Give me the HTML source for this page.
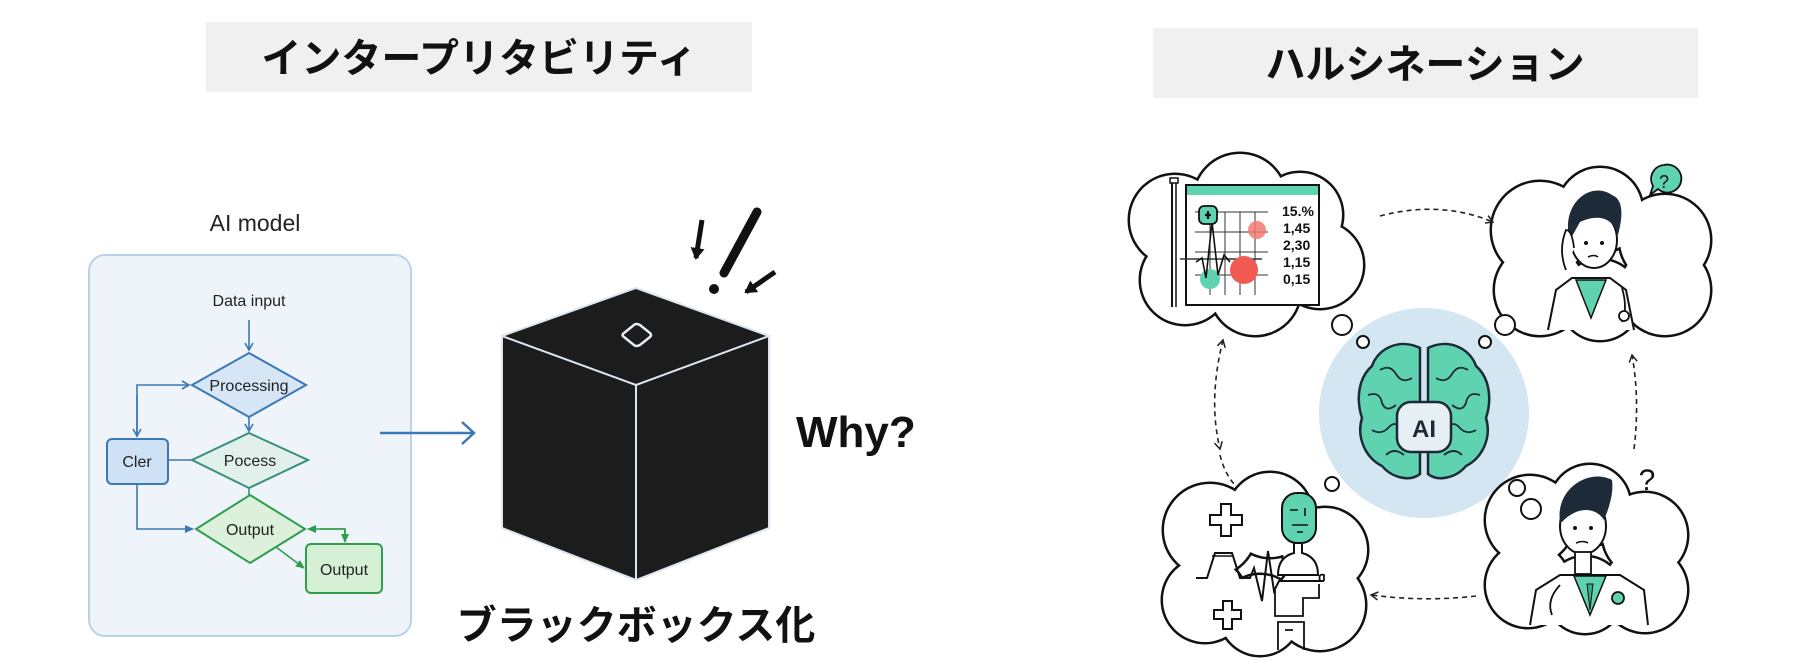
<!DOCTYPE html>
<html><head><meta charset="utf-8"><style>
html,body{margin:0;padding:0;background:#fff;}
svg{display:block;}
.jp{font-family:"Liberation Sans","Noto Sans CJK JP",sans-serif;font-weight:700;}
.lt{font-family:"Liberation Sans","Noto Sans CJK JP",sans-serif;}
</style></head><body>
<svg width="1820" height="671" viewBox="0 0 1820 671" xmlns="http://www.w3.org/2000/svg">
<defs>
<marker id="ab" markerWidth="10" markerHeight="10" refX="8" refY="5" orient="auto" markerUnits="userSpaceOnUse"><path d="M1,1 L8,5 L1,9" fill="none" stroke="#3b78b5" stroke-width="1.6"/></marker>
<marker id="ag" markerWidth="10" markerHeight="10" refX="8" refY="5" orient="auto" markerUnits="userSpaceOnUse"><path d="M0,1 L9,5 L0,9 z" fill="#2e9e4a"/></marker>
<marker id="abf" markerWidth="10" markerHeight="10" refX="8" refY="5" orient="auto" markerUnits="userSpaceOnUse"><path d="M0,1 L9,5 L0,9 z" fill="#3b78b5"/></marker>
<marker id="ak" markerWidth="10" markerHeight="10" refX="8" refY="5" orient="auto-start-reverse" markerUnits="userSpaceOnUse"><path d="M1,1 L8,5 L1,9" fill="none" stroke="#222" stroke-width="1.5"/></marker>
<marker id="akb" markerWidth="14" markerHeight="14" refX="10" refY="7" orient="auto" markerUnits="userSpaceOnUse"><path d="M0,0 L12,7 L0,14 z" fill="#111"/></marker>
</defs>

<rect x="206" y="22" width="546" height="70" fill="#f0f0f0"/>
<text x="479" y="72" text-anchor="middle" class="jp" font-size="40" fill="#111">インタープリタビリティ</text>

<text x="255" y="231" text-anchor="middle" class="lt" font-size="23" fill="#222">AI model</text>
<rect x="89" y="255" width="322" height="381" rx="16" fill="#eef4fa" stroke="#b9d3e8" stroke-width="2"/>
<text x="249" y="306" text-anchor="middle" class="lt" font-size="16" fill="#222">Data input</text>
<line x1="249" y1="320" x2="249" y2="350" stroke="#3b78b5" stroke-width="1.6" marker-end="url(#ab)"/>
<polygon points="249,353 306,385 249,417 192,385" fill="#d6e6f6" stroke="#3b78b5" stroke-width="2"/>
<text x="249" y="391" text-anchor="middle" class="lt" font-size="16" fill="#222">Processing</text>
<line x1="249" y1="417" x2="249" y2="431" stroke="#3b78b5" stroke-width="1.6" marker-end="url(#ab)"/>
<polygon points="249,433 308,460 249,488 192,460" fill="#e2f0ec" stroke="#3a8f7a" stroke-width="2"/>
<text x="250" y="466" text-anchor="middle" class="lt" font-size="16" fill="#222">Pocess</text>
<line x1="249" y1="488" x2="249" y2="495" stroke="#3a8f7a" stroke-width="1.6"/>
<polygon points="250,495 305,529 250,563 196,529" fill="#dcf0dc" stroke="#2e9e4a" stroke-width="2"/>
<text x="250" y="535" text-anchor="middle" class="lt" font-size="16" fill="#222">Output</text>
<rect x="107" y="439" width="61" height="45" rx="5" fill="#cfe1f4" stroke="#3b78b5" stroke-width="2"/>
<text x="137" y="467" text-anchor="middle" class="lt" font-size="16" fill="#222">Cler</text>
<rect x="306" y="544" width="76" height="49" rx="5" fill="#d6f0d6" stroke="#2e9e4a" stroke-width="2"/>
<text x="344" y="575" text-anchor="middle" class="lt" font-size="16" fill="#222">Output</text>
<polyline points="137,437 137,385 189,385" fill="none" stroke="#3b78b5" stroke-width="1.6" marker-end="url(#ab)"/>
<line x1="137" y1="395" x2="137" y2="436" stroke="#3b78b5" stroke-width="1.6" marker-end="url(#ab)"/>
<line x1="168" y1="460" x2="192" y2="460" stroke="#3b78b5" stroke-width="1.6"/>
<polyline points="137,484 137,529 193,529" fill="none" stroke="#3b78b5" stroke-width="1.6" marker-end="url(#abf)"/>
<polyline points="345,541 345,529 308,529" fill="none" stroke="#2e9e4a" stroke-width="1.6" marker-end="url(#ag)"/>
<polyline points="320,529 345,529 345,542" fill="none" stroke="#2e9e4a" stroke-width="1.6" marker-end="url(#ag)"/>
<line x1="276" y1="547" x2="304" y2="568" stroke="#2e9e4a" stroke-width="1.6" marker-end="url(#ag)"/>
<line x1="380" y1="433" x2="473" y2="433" stroke="#3b78b5" stroke-width="2.5"/>
<path d="M462,422 L474,433 L462,444" fill="none" stroke="#3b78b5" stroke-width="2.5"/>

<polygon points="636,288 769,336 769,528 636,580 502,528 502,336" fill="#1c1c1c"/>
<polyline points="502,336 636,288 769,336 636,385 502,336 502,528 636,580 769,528 769,336" fill="none" stroke="#dde6f0" stroke-width="2"/>
<line x1="636" y1="385" x2="636" y2="580" stroke="#dde6f0" stroke-width="2"/>
<path d="M624,333 L634,325 Q636,323 640,325 L650,333 Q652,335 650,337 L640,345 Q636,347 634,345 L624,337 Q621,335 624,333 Z" fill="none" stroke="#e8eef4" stroke-width="2.5"/>
<line x1="757" y1="212" x2="724" y2="273" stroke="#111" stroke-width="9" stroke-linecap="round"/>
<circle cx="714" cy="289" r="5" fill="#111"/>
<line x1="702" y1="220" x2="696" y2="258" stroke="#111" stroke-width="5" marker-end="url(#akb)"/>
<line x1="775" y1="272" x2="746" y2="292" stroke="#111" stroke-width="5" marker-end="url(#akb)"/>
<text x="796" y="447" class="lt" font-weight="700" font-size="44" fill="#111">Why?</text>
<text x="636" y="639" text-anchor="middle" class="jp" font-size="40" fill="#111">ブラックボックス化</text>

<rect x="1153" y="28" width="545" height="70" fill="#f0f0f0"/>
<text x="1425" y="78" text-anchor="middle" class="jp" font-size="40" fill="#111">ハルシネーション</text>

<circle cx="1424" cy="413" r="105" fill="#d3e6f1"/>
<g stroke="#1d2b38" stroke-width="2.5" fill="#5fd3b0">
<path d="M1420,348 C1400,338 1378,348 1372,366 C1358,378 1356,400 1362,418 C1356,438 1366,458 1382,466 C1392,478 1410,482 1420,474 Z"/>
<path d="M1428,348 C1448,338 1470,348 1476,366 C1490,378 1492,400 1486,418 C1492,438 1482,458 1466,466 C1456,478 1438,482 1428,474 Z"/>
</g>
<g stroke="#1d2b38" stroke-width="1.8" fill="none">
<path d="M1380,370 q10,-6 16,4 q6,10 16,4"/><path d="M1368,395 q12,-4 14,8 q4,10 14,2"/><path d="M1372,430 q10,6 18,-4 q8,-6 10,6"/><path d="M1386,455 q8,-8 18,0"/>
<path d="M1468,370 q-10,-6 -16,4 q-6,10 -16,4"/><path d="M1480,395 q-12,-4 -14,8 q-4,10 -14,2"/><path d="M1476,430 q-10,6 -18,-4 q-8,-6 -10,6"/><path d="M1462,455 q-8,-8 -18,0"/>
</g>
<rect x="1397" y="402" width="54" height="50" rx="14" fill="#e6f0f4" stroke="#1d2b38" stroke-width="2.5"/>
<text x="1424" y="437" text-anchor="middle" class="lt" font-weight="700" font-size="24" fill="#1d2b38">AI</text>

<g stroke="#111" stroke-width="5" fill="#111">
<circle cx="1175" cy="220" r="45"/><circle cx="1240" cy="200" r="46"/><circle cx="1300" cy="215" r="42"/><circle cx="1320" cy="265" r="43"/><circle cx="1255" cy="290" r="45"/><circle cx="1185" cy="280" r="44"/>
<circle cx="1540" cy="230" r="48"/><circle cx="1600" cy="210" r="42"/><circle cx="1665" cy="240" r="45"/><circle cx="1665" cy="290" r="45"/><circle cx="1600" cy="300" r="40"/><circle cx="1540" cy="290" r="45"/>
<circle cx="1210" cy="530" r="46"/><circle cx="1270" cy="515" r="42"/><circle cx="1325" cy="550" r="42"/><circle cx="1320" cy="605" r="45"/><circle cx="1260" cy="615" r="40"/><circle cx="1205" cy="600" r="42"/>
<circle cx="1530" cy="520" r="44"/><circle cx="1590" cy="505" r="40"/><circle cx="1645" cy="535" r="42"/><circle cx="1645" cy="590" r="42"/><circle cx="1585" cy="595" r="38"/><circle cx="1528" cy="585" r="42"/>
</g>
<g fill="#fff">
<circle cx="1175" cy="220" r="45"/><circle cx="1240" cy="200" r="46"/><circle cx="1300" cy="215" r="42"/><circle cx="1320" cy="265" r="43"/><circle cx="1255" cy="290" r="45"/><circle cx="1185" cy="280" r="44"/>
<circle cx="1540" cy="230" r="48"/><circle cx="1600" cy="210" r="42"/><circle cx="1665" cy="240" r="45"/><circle cx="1665" cy="290" r="45"/><circle cx="1600" cy="300" r="40"/><circle cx="1540" cy="290" r="45"/>
<circle cx="1210" cy="530" r="46"/><circle cx="1270" cy="515" r="42"/><circle cx="1325" cy="550" r="42"/><circle cx="1320" cy="605" r="45"/><circle cx="1260" cy="615" r="40"/><circle cx="1205" cy="600" r="42"/>
<circle cx="1530" cy="520" r="44"/><circle cx="1590" cy="505" r="40"/><circle cx="1645" cy="535" r="42"/><circle cx="1645" cy="590" r="42"/><circle cx="1585" cy="595" r="38"/><circle cx="1528" cy="585" r="42"/>
</g>
<g fill="#fff" stroke="#111" stroke-width="2">
<circle cx="1342" cy="325" r="10"/><circle cx="1363" cy="342" r="6"/><circle cx="1505" cy="325" r="10"/><circle cx="1485" cy="342" r="6"/>
<circle cx="1332" cy="484" r="7"/><circle cx="1517" cy="488" r="8"/><circle cx="1531" cy="509" r="10"/>
</g>

<g stroke="#222" stroke-width="1.6" fill="none" stroke-dasharray="5,4">
<path d="M1380,216 Q1440,200 1493,222" marker-end="url(#ak)"/>
<path d="M1223,340 Q1208,400 1220,449" marker-end="url(#ak)" marker-start="url(#ak)"/>
<path d="M1220,455 Q1224,472 1234,484"/>
<path d="M1634,449 Q1640,400 1632,355" marker-end="url(#ak)"/>
<path d="M1476,596 Q1425,602 1371,595" marker-end="url(#ak)"/>
</g>

<rect x="1170" y="178" width="8" height="5" fill="#fff" stroke="#111" stroke-width="1.5"/>
<line x1="1172" y1="183" x2="1172" y2="307" stroke="#111" stroke-width="2"/>
<line x1="1176" y1="183" x2="1176" y2="307" stroke="#111" stroke-width="1.5"/>
<rect x="1186" y="185" width="133" height="120" fill="#fff" stroke="#111" stroke-width="2"/>
<rect x="1187" y="186" width="131" height="9" fill="#5fd3b0"/>
<g stroke="#333" stroke-width="1">
<line x1="1195" y1="212" x2="1268" y2="212"/><line x1="1195" y1="232" x2="1268" y2="232"/><line x1="1195" y1="252" x2="1268" y2="252"/><line x1="1180" y1="259" x2="1262" y2="259" stroke-width="1.5"/><line x1="1195" y1="275" x2="1268" y2="275"/>
<line x1="1210" y1="212" x2="1210" y2="295"/><line x1="1225" y1="212" x2="1225" y2="295"/><line x1="1240" y1="212" x2="1240" y2="295"/><line x1="1255" y1="212" x2="1255" y2="295"/>
</g>
<circle cx="1257" cy="230" r="9" fill="#f27a72" opacity="0.85"/>
<circle cx="1244" cy="270" r="14" fill="#f05a52"/>
<circle cx="1210" cy="279" r="10" fill="#5fd3b0"/>
<path d="M1196,262 L1202,258 L1206,278 L1212,222 L1218,275 L1224,255 L1230,262" fill="none" stroke="#111" stroke-width="1.6"/>
<rect x="1199" y="206" width="18" height="18" rx="5" fill="#5fd3b0" stroke="#111" stroke-width="1.8"/>
<path d="M1205,215 h6 M1208,211 v8" stroke="#111" stroke-width="2.2"/>
<g class="lt" font-weight="700" font-size="14" fill="#111">
<text x="1282" y="216">15.%</text><text x="1283" y="233">1,45</text><text x="1283" y="250">2,30</text><text x="1283" y="267">1,15</text><text x="1283" y="284">0,15</text>
</g>

<path d="M1664,165 a14,14 0 1,1 -6,24 l-8,6 l3,-9 a14,14 0 0,1 11,-21z" fill="#5fd3b0" stroke="#111" stroke-width="1.8"/>
<text x="1664" y="188" text-anchor="middle" class="lt" font-size="18" fill="#111">?</text>
<path d="M1548,330 L1556,290 L1572,278 L1610,278 L1626,290 L1634,330" fill="#fff" stroke="#111" stroke-width="2"/>
<path d="M1576,280 L1591,318 L1606,280 Z" fill="#5fd3b0" stroke="#111" stroke-width="1.5"/>
<path d="M1622,288 q6,20 0,34" fill="none" stroke="#111" stroke-width="1.8"/><circle cx="1624" cy="316" r="5" fill="#fff" stroke="#111" stroke-width="1.8"/>
<ellipse cx="1594" cy="240" rx="23" ry="28" fill="#fff" stroke="#111" stroke-width="2"/>
<path d="M1570,240 C1560,205 1590,180 1612,195 C1625,200 1622,220 1618,235 C1612,215 1595,215 1580,222 Z" fill="#1d2b38"/>
<circle cx="1586" cy="243" r="2" fill="#111"/><circle cx="1602" cy="243" r="2" fill="#111"/>
<path d="M1588,257 q6,-3 10,0" fill="none" stroke="#111" stroke-width="1.6"/>
<path d="M1566,270 q-8,-20 0,-40 q6,0 8,18" fill="#fff" stroke="#111" stroke-width="1.8"/>

<text x="1647" y="490" text-anchor="middle" class="lt" font-size="30" fill="#111">?</text>
<path d="M1530,625 L1536,590 L1560,575 L1620,575 L1644,590 L1648,625" fill="#fff" stroke="#111" stroke-width="2"/>
<path d="M1574,576 L1590,615 L1606,576 Z" fill="#5fd3b0" stroke="#111" stroke-width="1.5"/>
<path d="M1587,584 l3,26 l3,-26z" fill="#3aa98a" stroke="#111" stroke-width="1"/>
<path d="M1560,585 q-14,15 -8,30" fill="none" stroke="#111" stroke-width="1.8"/>
<circle cx="1618" cy="598" r="6" fill="#5fd3b0" stroke="#111" stroke-width="1.8"/>
<ellipse cx="1583" cy="526" rx="23" ry="28" fill="#fff" stroke="#111" stroke-width="2"/>
<path d="M1560,522 C1555,488 1590,468 1612,480 C1614,495 1608,510 1604,520 C1594,505 1575,508 1562,522 Z" fill="#1d2b38"/>
<circle cx="1575" cy="528" r="2" fill="#111"/><circle cx="1591" cy="528" r="2" fill="#111"/>
<path d="M1576,543 q7,-3 12,0" fill="none" stroke="#111" stroke-width="1.6"/>
<rect x="1575" y="552" width="16" height="22" fill="#fff" stroke="#111" stroke-width="1.8"/>

<path d="M1221,504 h10 v11 h11 v10 h-11 v11 h-10 v-11 h-11 v-10 h11z" fill="#fff" stroke="#111" stroke-width="2"/>
<path d="M1223,601 h9 v9 h9 v9 h-9 v10 h-9 v-10 h-9 v-9 h9z" fill="#fff" stroke="#111" stroke-width="2"/>
<rect x="1282" y="493" width="34" height="50" rx="15" fill="#5fd3b0" stroke="#111" stroke-width="2"/>
<path d="M1290,510 h8 M1305,508 v8 M1292,525 h16 M1297,532 h6" stroke="#111" stroke-width="1.6"/>
<path d="M1278,575 q0,-18 16,-22 v-10 h8 v10 q16,4 16,22 z" fill="#fff" stroke="#111" stroke-width="2"/>
<path d="M1196,578 h11 l8,-25 h17 l8,25 h10 l4,-10 l8,33 l6,-50 l6,40 l5,-10 h45" fill="none" stroke="#111" stroke-width="2"/>
<path d="M1212,556 h20" stroke="#111" stroke-width="1.5"/>
<path d="M1275,590 v26 h28 v-18 h16 v-14 M1320,581 q-2,-8 4,-6 v6" fill="none" stroke="#111" stroke-width="1.8"/>
<path d="M1278,650 v-28 h26 v28 M1285,630 h8" fill="none" stroke="#111" stroke-width="1.8"/>
</svg>
</body></html>
